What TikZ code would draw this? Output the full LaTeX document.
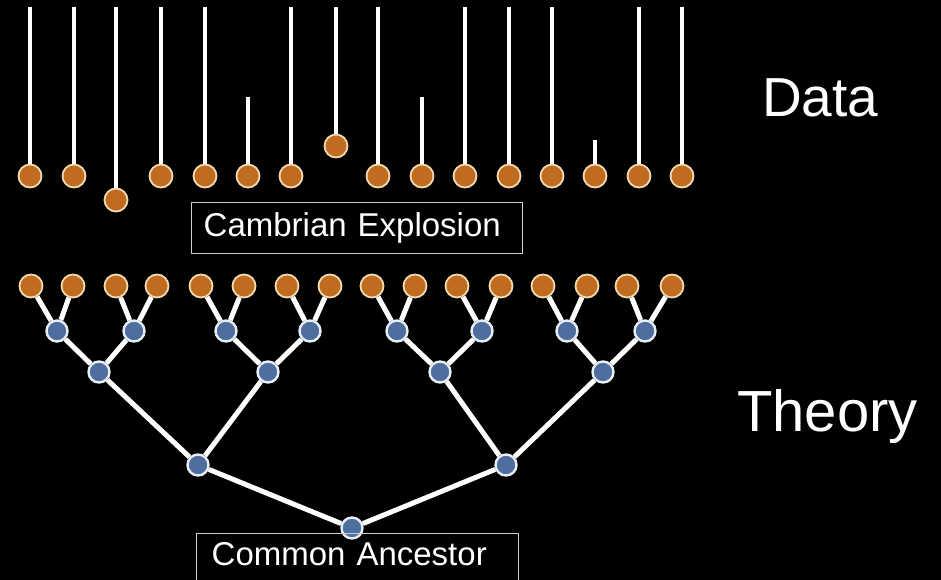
\documentclass[tikz,border=0pt]{standalone}
\usepackage{fontspec}
\setmainfont{Liberation Sans}
\begin{document}
\begin{tikzpicture}[x=1pt,y=-1pt,
  leaf/.style={circle,fill=orangefill,draw=orangeline,line width=1.8pt,minimum size=23pt,inner sep=0pt},
  inner/.style={circle,fill=bluefill,draw=blueline,line width=2.4pt,minimum size=21pt,inner sep=0pt},
  stick/.style={draw=white,line width=4.5pt},
  branch/.style={draw=white,line width=5pt},
  labelbox/.style={draw=boxline,line width=1.4pt,text=white,align=left,font=\fontsize{33}{38}\selectfont},
  bigtext/.style={text=white,inner sep=0pt}]
\definecolor{orangefill}{RGB}{192,108,32}
\definecolor{orangeline}{RGB}{242,217,176}
\definecolor{bluefill}{RGB}{78,110,160}
\definecolor{blueline}{RGB}{232,238,245}
\definecolor{boxline}{RGB}{205,205,205}
\fill[black] (0,0) rectangle (941,580);
\useasboundingbox (0,0) rectangle (941,580);
\clip (0,0) rectangle (941,580);

% Data
\foreach \i/\x/\y/\t in {1/30/176/7,2/74/176/7,3/116/200/7,4/161/176/7,5/205/176/7,6/248/176/97,7/291/176/7,8/336/146/7,9/378/176/7,10/422/176/97,11/465/176/7,12/509/176/7,13/552/176/7,14/595/176/140,15/639/176/7,16/682/176/7}{
  \node[leaf] (d\i) at (\x,\y) {};
  \coordinate (t\i) at (\x,\t);
  \draw[stick] (t\i) -- (d\i);
}

\node[labelbox,anchor=north west,minimum height=51pt,text width=307pt,inner xsep=12pt] (cambrian) at (191,202) {Cambrian Explosion};

% Tree leaves
\foreach \i/\x in {1/31,2/73,3/116,4/157,5/201,6/244,7/287,8/330,9/372,10/415,11/457,12/501,13/543,14/587,15/627,16/672}{
  \node[leaf] (l\i) at (\x,286) {};
}
% level 1
\foreach \i/\x in {1/57,2/134,3/226,4/310,5/397,6/482,7/567,8/645}{
  \node[inner] (a\i) at (\x,331) {};
}
% level 2
\foreach \i/\x in {1/99,2/268,3/440,4/603}{
  \node[inner] (b\i) at (\x,372) {};
}
\node[inner] (c1) at (198,465) {};
\node[inner] (c2) at (506,465) {};
\node[inner] (root) at (352,528) {};

\foreach \p/\l/\r in {1/1/2,2/3/4,3/5/6,4/7/8,5/9/10,6/11/12,7/13/14,8/15/16}{
  \draw[branch] (l\l) -- (a\p);
  \draw[branch] (l\r) -- (a\p);
}
\foreach \p/\l/\r in {1/1/2,2/3/4,3/5/6,4/7/8}{
  \draw[branch] (a\l) -- (b\p);
  \draw[branch] (a\r) -- (b\p);
}
\draw[branch] (b1) -- (c1);
\draw[branch] (b2) -- (c1);
\draw[branch] (b3) -- (c2);
\draw[branch] (b4) -- (c2);
\draw[branch] (c1) -- (root);
\draw[branch] (c2) -- (root);

\node[labelbox,anchor=north west,text width=292pt,inner xsep=15pt,inner ysep=9pt,text depth=30pt] (ancestor) at (196,533) {Common Ancestor};

\node[bigtext,anchor=base west,font=\fontsize{55}{60}\selectfont] (data) at (762,117) {Data};
\node[bigtext,anchor=base west,font=\fontsize{58}{64}\selectfont] (theory) at (737,431) {Theory};
\end{tikzpicture}
\end{document}
